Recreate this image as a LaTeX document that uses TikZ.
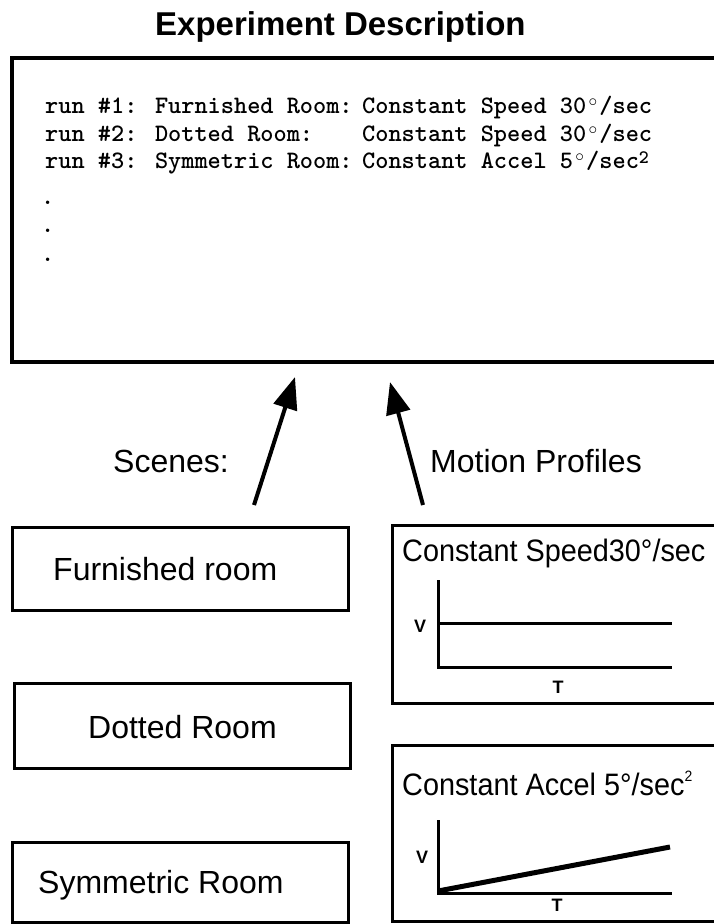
\documentclass[tikz,border=0pt]{standalone}
\usepackage{fontspec}
\setmainfont{Liberation Sans}
\usetikzlibrary{arrows.meta}
\newcommand{\degmono}{\makebox[13.2pt][c]{\smash{\raisebox{7pt}{$\scriptstyle\circ$}}}}
\begin{document}
\begin{tikzpicture}[x=1pt,y=-1pt,
  box/.style={draw, line width=3pt, inner sep=0pt, outer sep=0pt, anchor=north west},
  sanslbl/.style={font=\fontsize{32}{38}\selectfont, anchor=base west, inner sep=0pt},
  titlelbl/.style={font=\bfseries\fontsize{33}{40}\selectfont, anchor=base west, inner sep=0pt},
  runtxt/.style={font=\ttfamily\bfseries\fontsize{25.1}{28}\selectfont, anchor=base west, inner sep=0pt},
  proftitle/.style={font=\fontsize{31}{36}\selectfont, anchor=base west, inner sep=0pt},
  axlbl/.style={font=\bfseries\fontsize{18}{20}\selectfont, inner sep=0pt},
  axisline/.style={line width=3pt},
  arr/.style={line width=4pt, -{Triangle[length=32pt,width=24pt]}}
]
\useasboundingbox (0,0) rectangle (714,924);
\clip (0,0) rectangle (714,924);

% title
\node[titlelbl] (title) at (155,35) {Experiment Description};

% experiment description box
\node[box, line width=3.5pt, minimum width=760pt, minimum height=304pt] (desc) at (12,58) {};
\node[runtxt] (r1a) at (45,113) {run \#1: Furnished Room:};
\node[runtxt] (r1b) at (362,113) {Constant Speed 30\degmono/sec};
\node[runtxt] (r2a) at (45,141) {run \#2: Dotted Room:};
\node[runtxt] (r2b) at (362,141) {Constant Speed 30\degmono/sec};
\node[runtxt] (r3a) at (45,168) {run \#3: Symmetric Room:};
\node[runtxt] (r3b) at (362,168) {Constant Accel 5\degmono/sec\smash{\raisebox{5pt}{\fontsize{19}{19}\selectfont 2}}};
\node[runtxt] (d1) at (41,204) {.};
\node[runtxt] (d2) at (41,232) {.};
\node[runtxt] (d3) at (41,261) {.};

% arrows
\coordinate (a1s) at (254,505);
\coordinate (a1e) at (295,377);
\coordinate (a2s) at (423,505);
\coordinate (a2e) at (390,382);
\draw[arr] (a1s) -- (a1e);
\draw[arr] (a2s) -- (a2e);

\node[sanslbl] (scenes) at (113,472) {Scenes:};
\node[sanslbl] (motion) at (430,472) {Motion Profiles};

% scene boxes
\node[box, minimum width=336pt, minimum height=83pt] (furn) at (12,527) {};
\node[sanslbl] (furnt) at (53,580) {Furnished room};
\node[box, minimum width=336pt, minimum height=85pt] (dott) at (14,683) {};
\node[sanslbl] (dottt) at (88,738) {Dotted Room};
\node[box, minimum width=336pt, minimum height=80pt] (symm) at (12,842) {};
\node[sanslbl] (symmt) at (38,893) {Symmetric Room};

% motion profile 1
\node[box, minimum width=340pt, minimum height=178pt] (prof1) at (392,525) {};
\node[proftitle] (p1t) at (402,561) {\scalebox{0.93}[1]{Constant Speed30°/sec}};
\draw[axisline] (438,580) -- (438,667) -- (672,667);
\draw[axisline] (438,623) -- (672,623);
\node[axlbl] (v1) at (420,626) {V};
\node[axlbl] (t1) at (558,687) {T};

% motion profile 2
\node[box, minimum width=340pt, minimum height=176pt] (prof2) at (392,745) {};
\node[proftitle] (p2t) at (402,795) {\scalebox{0.93}[1]{Constant Accel 5°/sec\raisebox{14pt}{\fontsize{15}{15}\selectfont 2}}};
\draw[axisline] (438,820) -- (438,893) -- (672,893);
\draw[line width=5pt] (438,891) -- (670,847);
\node[axlbl] (v2) at (422,857) {V};
\node[axlbl] (t2) at (557,905) {T};
\end{tikzpicture}
\end{document}
